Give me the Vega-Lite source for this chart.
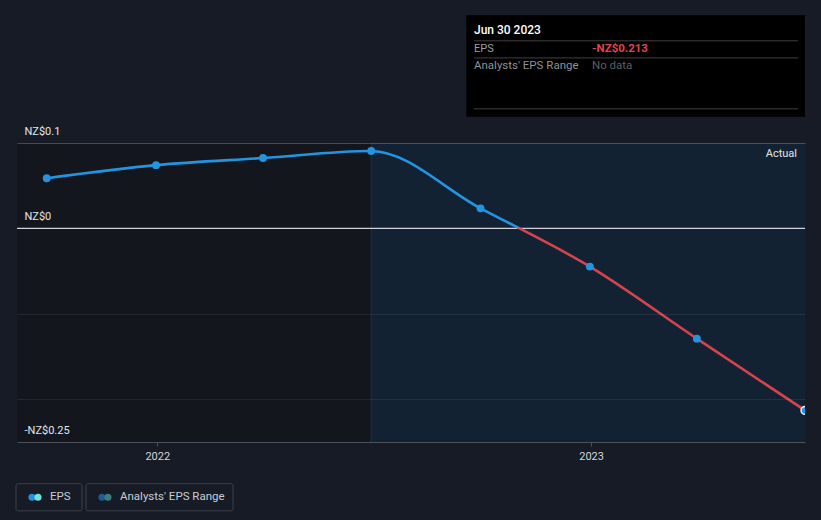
{
  "$schema": "https://vega.github.io/schema/vega-lite/v6.json",
  "width": 788,
  "height": 299,
  "autosize": {"type": "none"},
  "padding": {"left": 17, "top": 143, "right": 16, "bottom": 78},
  "background": "#161b26",
  "config": {"view": {"stroke": null}, "font": "Roboto", "text": {"font": "Roboto"}},
  "datasets": {
    "eps": [
      {"date": "2021-09-30", "eps": 0.0588},
      {"date": "2021-12-31", "eps": 0.0741},
      {"date": "2022-03-31", "eps": 0.0824},
      {"date": "2022-06-30", "eps": 0.0906},
      {"date": "2022-09-30", "eps": 0.0235},
      {"date": "2022-12-31", "eps": -0.0447},
      {"date": "2023-03-31", "eps": -0.129},
      {"date": "2023-06-30", "eps": -0.213}
    ],
    "one": [{}]
  },
  "data": {"name": "eps"},
  "layer": [
    {
      "data": {"name": "one"},
      "mark": {"type": "rect", "fill": "#13161d"},
      "encoding": {
        "x": {"datum": {"year": 2021, "month": 9, "date": 5, "utc": true}, "type": "temporal",
          "scale": {"type": "utc", "domain": [{"year": 2021, "month": 9, "date": 5, "utc": true}, {"year": 2023, "month": 6, "date": 30, "utc": true}]},
          "axis": {"values": [{"year": 2022, "month": 1, "date": 1, "utc": true}, {"year": 2023, "month": 1, "date": 1, "utc": true}],
            "format": "%Y", "title": null, "grid": false, "domainColor": "#4b5059", "tickColor": "#4b5059", "tickSize": 4,
            "labelPadding": 4, "labelColor": "#d4d6da", "labelFontSize": 11, "labelFlush": false, "zindex": 1}},
        "x2": {"datum": {"year": 2022, "month": 6, "date": 30, "utc": true}},
        "y": {"datum": 0.1, "type": "quantitative",
          "scale": {"domain": [-0.25, 0.1], "nice": false, "zero": false},
          "axis": {"values": [0.1, 0, -0.1, -0.2, -0.25], "title": null, "domain": false, "ticks": false,
            "labelAlign": "left", "labelPadding": -7, "labelOffset": -12, "labelBaseline": "middle", "labelFlush": false,
            "labelColor": "#e4e6e9", "labelFontSize": 11,
            "labelExpr": "datum.value == 0.1 ? 'NZ$0.1' : datum.value == 0 ? 'NZ$0' : datum.value == -0.25 ? '-NZ$0.25' : ''",
            "grid": true, "gridColor": "#ffffff",
            "gridOpacity": {"condition": {"test": "datum.value == 0.1", "value": 0.22}, "value": 0.07},
            "zindex": 1}},
        "y2": {"datum": -0.25}
      }
    },
    {
      "data": {"name": "one"},
      "mark": {"type": "rect", "fill": "#132232"},
      "encoding": {
        "x": {"datum": {"year": 2022, "month": 6, "date": 30, "utc": true}, "type": "temporal"},
        "x2": {"datum": {"year": 2023, "month": 6, "date": 30, "utc": true}},
        "y": {"datum": 0.1, "type": "quantitative"},
        "y2": {"datum": -0.25}
      }
    },
    {
      "data": {"name": "one"},
      "mark": {"type": "rule", "stroke": "#1f3245", "strokeWidth": 1},
      "encoding": {
        "x": {"datum": {"year": 2022, "month": 6, "date": 30, "utc": true}, "type": "temporal"},
        "y": {"datum": 0.1, "type": "quantitative"},
        "y2": {"datum": -0.25}
      }
    },
    {
      "data": {"name": "one"},
      "mark": {"type": "rule", "stroke": "#cdd0d5", "strokeWidth": 1.3},
      "encoding": {
        "x": {"datum": {"year": 2021, "month": 9, "date": 5, "utc": true}, "type": "temporal"},
        "x2": {"datum": {"year": 2023, "month": 6, "date": 30, "utc": true}},
        "y": {"datum": 0, "type": "quantitative"}
      }
    },
    {
      "data": {"name": "one"},
      "mark": {"type": "text", "align": "right", "baseline": "middle", "fontSize": 11, "fill": "#e4e6e9", "text": "Actual"},
      "encoding": {
        "x": {"datum": {"year": 2023, "month": 6, "date": 23, "hours": 7, "utc": true}, "type": "temporal"},
        "y": {"datum": 0.0871, "type": "quantitative"}
      }
    },
    {
      "mark": {"type": "line", "interpolate": "monotone", "strokeWidth": 2.6, "clip": true,
        "stroke": {"gradient": "linear", "x1": 0, "y1": 0, "x2": 0, "y2": 1,
          "stops": [{"offset": 0, "color": "#2394e0"}, {"offset": 0.2984, "color": "#2394e0"}, {"offset": 0.2984, "color": "#d5434f"}, {"offset": 1, "color": "#d5434f"}]}},
      "encoding": {
        "x": {"field": "date", "type": "temporal"},
        "y": {"field": "eps", "type": "quantitative"}
      }
    },
    {
      "transform": [{"filter": "datum.eps > -0.2"}],
      "mark": {"type": "circle", "size": 62, "opacity": 1, "fill": "#2394e0", "clip": true},
      "encoding": {
        "x": {"field": "date", "type": "temporal"},
        "y": {"field": "eps", "type": "quantitative"}
      }
    },
    {
      "transform": [{"filter": "datum.eps <= -0.2"}],
      "mark": {"type": "circle", "size": 62, "opacity": 1, "fill": "#2394e0", "stroke": "#e8f2ff", "strokeWidth": 1.5, "clip": true},
      "encoding": {
        "x": {"field": "date", "type": "temporal"},
        "y": {"field": "eps", "type": "quantitative"}
      }
    },
    {
      "data": {"name": "one"},
      "mark": {"type": "rect", "fill": "#000000"},
      "encoding": {
        "x": {"datum": {"year": 2022, "month": 9, "date": 18, "utc": true}, "type": "temporal"},
        "x2": {"datum": {"year": 2023, "month": 6, "date": 30, "utc": true}},
        "y": {"datum": 0.2494, "type": "quantitative"},
        "y2": {"datum": 0.1306}
      }
    },
    {
      "data": {"name": "one"},
      "mark": {"type": "rule", "stroke": "#414141", "strokeWidth": 1},
      "encoding": {
        "x": {"datum": {"year": 2022, "month": 9, "date": 24, "hours": 12, "utc": true}, "type": "temporal"},
        "x2": {"datum": {"year": 2023, "month": 6, "date": 24, "utc": true}},
        "y": {"datum": 0.2196, "type": "quantitative"}
      }
    },
    {
      "data": {"name": "one"},
      "mark": {"type": "rule", "stroke": "#414141", "strokeWidth": 1},
      "encoding": {
        "x": {"datum": {"year": 2022, "month": 9, "date": 24, "hours": 12, "utc": true}, "type": "temporal"},
        "x2": {"datum": {"year": 2023, "month": 6, "date": 24, "utc": true}},
        "y": {"datum": 0.1996, "type": "quantitative"}
      }
    },
    {
      "data": {"name": "one"},
      "mark": {"type": "rule", "stroke": "#414141", "strokeWidth": 1},
      "encoding": {
        "x": {"datum": {"year": 2022, "month": 9, "date": 24, "hours": 12, "utc": true}, "type": "temporal"},
        "x2": {"datum": {"year": 2023, "month": 6, "date": 24, "utc": true}},
        "y": {"datum": 0.14, "type": "quantitative"}
      }
    },
    {
      "data": {"name": "one"},
      "mark": {"type": "text", "align": "left", "baseline": "middle", "fontSize": 12, "fontWeight": 500, "fill": "#ffffff", "text": "Jun 30 2023"},
      "encoding": {
        "x": {"datum": {"year": 2022, "month": 9, "date": 24, "hours": 12, "utc": true}, "type": "temporal"},
        "y": {"datum": 0.2318, "type": "quantitative"}
      }
    },
    {
      "data": {"name": "one"},
      "mark": {"type": "text", "align": "left", "baseline": "middle", "fontSize": 11, "fill": "#9b9ea3", "text": "EPS"},
      "encoding": {
        "x": {"datum": {"year": 2022, "month": 9, "date": 24, "hours": 12, "utc": true}, "type": "temporal"},
        "y": {"datum": 0.2102, "type": "quantitative"}
      }
    },
    {
      "data": {"name": "one"},
      "mark": {"type": "text", "align": "left", "baseline": "middle", "fontSize": 11.5, "fontWeight": "bold", "fill": "#e0434b", "text": "-NZ$0.213"},
      "encoding": {
        "x": {"datum": {"year": 2023, "month": 1, "date": 1, "hours": 19, "utc": true}, "type": "temporal"},
        "y": {"datum": 0.2102, "type": "quantitative"}
      }
    },
    {
      "data": {"name": "one"},
      "mark": {"type": "text", "align": "left", "baseline": "middle", "fontSize": 11.5, "fill": "#8e9196", "text": "Analysts' EPS Range"},
      "encoding": {
        "x": {"datum": {"year": 2022, "month": 9, "date": 24, "hours": 12, "utc": true}, "type": "temporal"},
        "y": {"datum": 0.1906, "type": "quantitative"}
      }
    },
    {
      "data": {"name": "one"},
      "mark": {"type": "text", "align": "left", "baseline": "middle", "fontSize": 11.5, "fill": "#5c5f64", "text": "No data"},
      "encoding": {
        "x": {"datum": {"year": 2023, "month": 1, "date": 1, "hours": 19, "utc": true}, "type": "temporal"},
        "y": {"datum": 0.1906, "type": "quantitative"}
      }
    },
    {
      "data": {"name": "one"},
      "mark": {"type": "rect", "fill": null, "fillOpacity": 0, "stroke": "#3d424c", "strokeWidth": 1, "cornerRadius": 2},
      "encoding": {
        "x": {"datum": {"year": 2021, "month": 9, "date": 4, "hours": 4, "utc": true}, "type": "temporal"},
        "x2": {"datum": {"year": 2021, "month": 10, "date": 29, "hours": 16, "utc": true}},
        "y": {"datum": -0.2988, "type": "quantitative"},
        "y2": {"datum": -0.3306}
      }
    },
    {
      "data": {"name": "one"},
      "mark": {"type": "rect", "fill": null, "fillOpacity": 0, "stroke": "#3d424c", "strokeWidth": 1, "cornerRadius": 2},
      "encoding": {
        "x": {"datum": {"year": 2021, "month": 11, "date": 2, "hours": 1, "utc": true}, "type": "temporal"},
        "x2": {"datum": {"year": 2022, "month": 3, "date": 5, "hours": 18, "utc": true}},
        "y": {"datum": -0.2988, "type": "quantitative"},
        "y2": {"datum": -0.3306}
      }
    },
    {
      "data": {"name": "one"},
      "mark": {"type": "circle", "size": 50, "opacity": 1, "fill": "#2590e2"},
      "encoding": {
        "x": {"datum": {"year": 2021, "month": 9, "date": 17, "hours": 15, "utc": true}, "type": "temporal"},
        "y": {"datum": -0.3147, "type": "quantitative"}
      }
    },
    {
      "data": {"name": "one"},
      "mark": {"type": "circle", "size": 50, "opacity": 1, "fill": "#6fe3d9"},
      "encoding": {
        "x": {"datum": {"year": 2021, "month": 9, "date": 22, "hours": 16, "utc": true}, "type": "temporal"},
        "y": {"datum": -0.3147, "type": "quantitative"}
      }
    },
    {
      "data": {"name": "one"},
      "mark": {"type": "circle", "size": 50, "opacity": 1, "fill": "#1e5d8e"},
      "encoding": {
        "x": {"datum": {"year": 2021, "month": 11, "date": 15, "hours": 12, "utc": true}, "type": "temporal"},
        "y": {"datum": -0.3147, "type": "quantitative"}
      }
    },
    {
      "data": {"name": "one"},
      "mark": {"type": "circle", "size": 50, "opacity": 1, "fill": "#3e7b7f"},
      "encoding": {
        "x": {"datum": {"year": 2021, "month": 11, "date": 20, "hours": 13, "utc": true}, "type": "temporal"},
        "y": {"datum": -0.3147, "type": "quantitative"}
      }
    },
    {
      "data": {"name": "one"},
      "mark": {"type": "text", "align": "left", "baseline": "middle", "fontSize": 11.5, "fill": "#c9ccd1", "text": "EPS"},
      "encoding": {
        "x": {"datum": {"year": 2021, "month": 10, "date": 2, "hours": 18, "utc": true}, "type": "temporal"},
        "y": {"datum": -0.3147, "type": "quantitative"}
      }
    },
    {
      "data": {"name": "one"},
      "mark": {"type": "text", "align": "left", "baseline": "middle", "fontSize": 11.5, "fill": "#c9ccd1", "text": "Analysts' EPS Range"},
      "encoding": {
        "x": {"datum": {"year": 2021, "month": 11, "date": 30, "hours": 16, "utc": true}, "type": "temporal"},
        "y": {"datum": -0.3147, "type": "quantitative"}
      }
    }
  ]
}
